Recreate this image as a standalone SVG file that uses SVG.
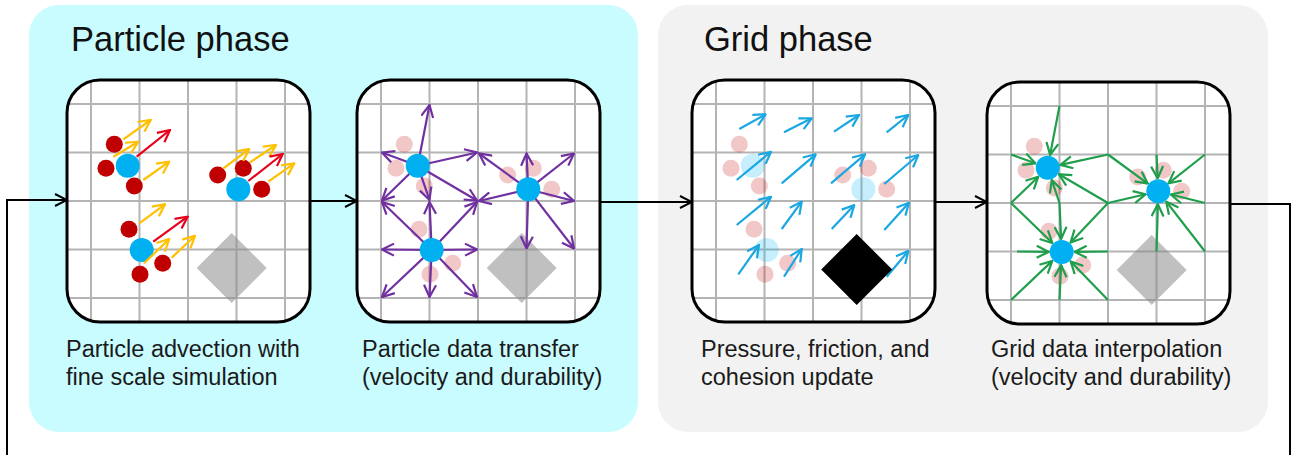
<svg xmlns="http://www.w3.org/2000/svg" xmlns:xlink="http://www.w3.org/1999/xlink" width="1298" height="455" viewBox="0 0 1298 455">
<style>
.title{font-family:"Liberation Sans",Arial,sans-serif;font-size:34.5px;fill:#111}
.lbl{font-family:"Liberation Sans",Arial,sans-serif;font-size:23.5px;fill:#1a1a1a}
.gl{stroke:#b4b4b4;stroke-width:2}
.boxbg{fill:#fff}
.boxol{fill:none;stroke:#000;stroke-width:3}
.red{fill:#c00000}
.pink{fill:#c00000;fill-opacity:0.22}
.blue{fill:#00b0f0}
.lblue{fill:#00b0f0;fill-opacity:0.22}
.ay{stroke:#ffc000;stroke-width:2.2;fill:none;marker-end:url(#mY)}
.ar{stroke:#e8001c;stroke-width:2.2;fill:none;marker-end:url(#mR)}
.ap{stroke:#7030a0;stroke-width:2.2;fill:none;marker-end:url(#mP)}
.ab{stroke:#1aa7e2;stroke-width:2.2;fill:none;marker-end:url(#mB)}
.ag{stroke:#1f9e4c;stroke-width:2.2;fill:none;marker-end:url(#mG)}
.conn{stroke:#000;stroke-width:2;fill:none}
</style>
<defs>
<marker id="mY" viewBox="0 0 14 14" refX="13" refY="7" markerWidth="14" markerHeight="14" markerUnits="userSpaceOnUse" orient="auto"><path d="M1,1 L13,7 L1,13" fill="none" stroke="#ffc000" stroke-width="2.2"/></marker>
<marker id="mR" viewBox="0 0 14 14" refX="13" refY="7" markerWidth="14" markerHeight="14" markerUnits="userSpaceOnUse" orient="auto"><path d="M1,1 L13,7 L1,13" fill="none" stroke="#e8001c" stroke-width="2.2"/></marker>
<marker id="mP" viewBox="0 0 14 14" refX="13" refY="7" markerWidth="14" markerHeight="14" markerUnits="userSpaceOnUse" orient="auto"><path d="M1,1 L13,7 L1,13" fill="none" stroke="#7030a0" stroke-width="2.2"/></marker>
<marker id="mB" viewBox="0 0 14 14" refX="13" refY="7" markerWidth="14" markerHeight="14" markerUnits="userSpaceOnUse" orient="auto"><path d="M1,1 L13,7 L1,13" fill="none" stroke="#1aa7e2" stroke-width="2.2"/></marker>
<marker id="mG" viewBox="0 0 14 14" refX="13" refY="7" markerWidth="14" markerHeight="14" markerUnits="userSpaceOnUse" orient="auto"><path d="M1,1 L13,7 L1,13" fill="none" stroke="#1f9e4c" stroke-width="2.2"/></marker>
<marker id="mK" viewBox="0 0 14 14" refX="13" refY="7" markerWidth="14" markerHeight="14" markerUnits="userSpaceOnUse" orient="auto"><path d="M1,1 L13,7 L1,13" fill="none" stroke="#000" stroke-width="2"/></marker>
<g id="grid">
<line class="gl" x1="24" y1="0" x2="24" y2="242"/>
<line class="gl" x1="72.5" y1="0" x2="72.5" y2="242"/>
<line class="gl" x1="121" y1="0" x2="121" y2="242"/>
<line class="gl" x1="169.5" y1="0" x2="169.5" y2="242"/>
<line class="gl" x1="218" y1="0" x2="218" y2="242"/>
<line class="gl" x1="0" y1="24" x2="243" y2="24"/>
<line class="gl" x1="0" y1="72.5" x2="243" y2="72.5"/>
<line class="gl" x1="0" y1="121" x2="243" y2="121"/>
<line class="gl" x1="0" y1="169.5" x2="243" y2="169.5"/>
<line class="gl" x1="0" y1="218" x2="243" y2="218"/>
</g>
<g id="pinks">
<circle class="pink" cx="47.3" cy="64.3" r="8.5"/>
<circle class="pink" cx="39" cy="88.3" r="8.5"/>
<circle class="pink" cx="67.3" cy="106" r="8.5"/>
<circle class="pink" cx="150.7" cy="95" r="8.5"/>
<circle class="pink" cx="176.3" cy="88.3" r="8.5"/>
<circle class="pink" cx="194.7" cy="109.3" r="8.5"/>
<circle class="pink" cx="62" cy="149.3" r="8.5"/>
<circle class="pink" cx="95.7" cy="183.3" r="8.5"/>
<circle class="pink" cx="73" cy="194.3" r="8.5"/>
</g>
<g id="blues">
<circle class="blue" cx="60.7" cy="85.7" r="12"/>
<circle class="blue" cx="171.3" cy="109.3" r="12"/>
<circle class="blue" cx="74.7" cy="170" r="12"/>
</g>
</defs>

<g id="particle-phase">
<rect x="29" y="5" width="609" height="427" rx="30" fill="#c9fcff"/>
<text class="title" x="71" y="51">Particle phase</text>
</g>
<g id="grid-phase">
<rect x="658" y="5" width="610" height="427" rx="30" fill="#f2f2f2"/>
<text class="title" x="704" y="51">Grid phase</text>
</g>

<g id="panel-advection">
<g transform="translate(67,80)">
<rect class="boxbg" width="243" height="242" rx="33"/>
<use xlink:href="#grid"/>
<polygon points="164.7,153 199.7,188 164.7,223 129.7,188" fill="#8c8c8c" fill-opacity="0.55"/>
<circle class="red" cx="47.3" cy="64.3" r="8.5"/>
<circle class="red" cx="39" cy="88.3" r="8.5"/>
<circle class="red" cx="67.3" cy="106" r="8.5"/>
<circle class="red" cx="150.7" cy="95" r="8.5"/>
<circle class="red" cx="176.3" cy="88.3" r="8.5"/>
<circle class="red" cx="194.7" cy="109.3" r="8.5"/>
<circle class="red" cx="62" cy="149.3" r="8.5"/>
<circle class="red" cx="95.7" cy="183.3" r="8.5"/>
<circle class="red" cx="73" cy="194.3" r="8.5"/>
<use xlink:href="#blues"/>
<line class="ay" x1="56.3" y1="59.3" x2="83.7" y2="40"/>
<line class="ay" x1="46.3" y1="76.7" x2="71.3" y2="61.7"/>
<line class="ar" x1="69.7" y1="76.7" x2="103" y2="50"/>
<line class="ay" x1="76.3" y1="100" x2="102.3" y2="81.7"/>
<line class="ay" x1="156.3" y1="88.3" x2="182.3" y2="69"/>
<line class="ay" x1="183" y1="82.3" x2="209" y2="65"/>
<line class="ar" x1="181.3" y1="101" x2="215.7" y2="74"/>
<line class="ay" x1="201.3" y1="101.7" x2="227.3" y2="83.3"/>
<line class="ay" x1="72.3" y1="143.3" x2="98" y2="124.3"/>
<line class="ar" x1="86.3" y1="161.7" x2="120.7" y2="136.7"/>
<line class="ay" x1="77" y1="183.3" x2="102.3" y2="159"/>
<line class="ay" x1="104.7" y1="177.7" x2="128" y2="155.7"/>
<rect class="boxol" width="243" height="242" rx="33"/>
</g>
<text class="lbl" x="66" y="357">Particle advection with</text>
<text class="lbl" x="66" y="385">fine scale simulation</text>
</g>

<g id="panel-transfer">
<g transform="translate(357,80)">
<rect class="boxbg" width="243" height="242" rx="33"/>
<use xlink:href="#grid"/>
<polygon points="164.7,153 199.7,188 164.7,223 129.7,188" fill="#8c8c8c" fill-opacity="0.55"/>
<use xlink:href="#pinks"/>
<line class="ap" x1="60.7" y1="85.7" x2="72.5" y2="25"/>
<line class="ap" x1="60.7" y1="85.7" x2="120" y2="72.5"/>
<line class="ap" x1="60.7" y1="85.7" x2="120" y2="120.5"/>
<line class="ap" x1="60.7" y1="85.7" x2="72.5" y2="120"/>
<line class="ap" x1="60.7" y1="85.7" x2="25" y2="120.5"/>
<line class="ap" x1="60.7" y1="85.7" x2="25" y2="72.5"/>
<line class="ap" x1="171.3" y1="109.3" x2="122" y2="73.5"/>
<line class="ap" x1="171.3" y1="109.3" x2="169.5" y2="73.5"/>
<line class="ap" x1="171.3" y1="109.3" x2="217" y2="73.5"/>
<line class="ap" x1="171.3" y1="109.3" x2="217" y2="121"/>
<line class="ap" x1="171.3" y1="109.3" x2="122" y2="121"/>
<line class="ap" x1="171.3" y1="109.3" x2="169.5" y2="168.5"/>
<line class="ap" x1="171.3" y1="109.3" x2="217" y2="168.5"/>
<line class="ap" x1="74.7" y1="170" x2="72.5" y2="122"/>
<line class="ap" x1="74.7" y1="170" x2="120" y2="122"/>
<line class="ap" x1="74.7" y1="170" x2="25" y2="122"/>
<line class="ap" x1="74.7" y1="170" x2="25" y2="169.5"/>
<line class="ap" x1="74.7" y1="170" x2="120" y2="169.5"/>
<line class="ap" x1="74.7" y1="170" x2="25" y2="217"/>
<line class="ap" x1="74.7" y1="170" x2="72.5" y2="217"/>
<line class="ap" x1="74.7" y1="170" x2="120" y2="217"/>
<use xlink:href="#blues"/>
<rect class="boxol" width="243" height="242" rx="33"/>
</g>
<text class="lbl" x="362" y="357">Particle data transfer</text>
<text class="lbl" x="362" y="385">(velocity and durability)</text>
</g>

<g id="panel-update">
<g transform="translate(692,80)">
<rect class="boxbg" width="243" height="242" rx="33"/>
<use xlink:href="#grid"/>
<use xlink:href="#pinks"/>
<circle class="lblue" cx="60.7" cy="85.7" r="12"/>
<circle class="lblue" cx="171.3" cy="109.3" r="12"/>
<circle class="lblue" cx="74.7" cy="170" r="12"/>
<line class="ab" x1="47.3" y1="49" x2="73.7" y2="34.3"/>
<line class="ab" x1="92" y1="52.3" x2="119.7" y2="38.3"/>
<line class="ab" x1="142" y1="51.7" x2="167" y2="35"/>
<line class="ab" x1="194.7" y1="52.3" x2="216.3" y2="35"/>
<line class="ab" x1="44.7" y1="100" x2="79" y2="71.7"/>
<line class="ab" x1="89.7" y1="103.3" x2="123.7" y2="74.3"/>
<line class="ab" x1="139" y1="103.3" x2="173" y2="74.3"/>
<line class="ab" x1="192.3" y1="104" x2="226.3" y2="75"/>
<line class="ab" x1="44.7" y1="145" x2="79" y2="116.7"/>
<line class="ab" x1="89.7" y1="149" x2="109.7" y2="121.7"/>
<line class="ab" x1="139.7" y1="149" x2="162.3" y2="125"/>
<line class="ab" x1="192.3" y1="150" x2="217" y2="122.7"/>
<line class="ab" x1="46.3" y1="194.3" x2="67" y2="165"/>
<line class="ab" x1="92" y1="196.7" x2="109.7" y2="169"/>
<line class="ab" x1="194.7" y1="196.7" x2="216.3" y2="171"/>
<polygon points="164.7,154 200.2,189.5 164.7,225 129.2,189.5" fill="#000"/>
<rect class="boxol" width="243" height="242" rx="33"/>
</g>
<text class="lbl" x="701" y="357">Pressure, friction, and</text>
<text class="lbl" x="701" y="385">cohesion update</text>
</g>

<g id="panel-interpolation">
<g transform="translate(987,82)">
<rect class="boxbg" width="243" height="242" rx="33"/>
<use xlink:href="#grid"/>
<polygon points="164.7,153 199.7,188 164.7,223 129.7,188" fill="#8c8c8c" fill-opacity="0.55"/>
<use xlink:href="#pinks"/>
<line class="ag" x1="72.5" y1="24" x2="63.1" y2="72.9"/>
<line class="ag" x1="121" y1="72.5" x2="73.4" y2="82.9"/>
<line class="ag" x1="121" y1="121" x2="71.9" y2="92.3"/>
<line class="ag" x1="72.5" y1="121" x2="64.8" y2="98"/>
<line class="ag" x1="24" y1="121" x2="51.3" y2="94.7"/>
<line class="ag" x1="24" y1="72.5" x2="48.5" y2="81.3"/>
<line class="ag" x1="121" y1="72.5" x2="160.8" y2="101.6"/>
<line class="ag" x1="169.5" y1="72.5" x2="170.7" y2="96.3"/>
<line class="ag" x1="218" y1="72.5" x2="181.5" y2="101.3"/>
<line class="ag" x1="218" y1="121" x2="183.9" y2="112.5"/>
<line class="ag" x1="121" y1="121" x2="158.6" y2="112.3"/>
<line class="ag" x1="169.5" y1="169.5" x2="170.9" y2="122.3"/>
<line class="ag" x1="218" y1="169.5" x2="179.3" y2="119.6"/>
<line class="ag" x1="72.5" y1="121" x2="74.1" y2="157"/>
<line class="ag" x1="121" y1="121" x2="83.6" y2="160.5"/>
<line class="ag" x1="24" y1="121" x2="65.4" y2="161"/>
<line class="ag" x1="30" y1="169.5" x2="61.7" y2="169.9"/>
<line class="ag" x1="121" y1="169.5" x2="87.7" y2="169.9"/>
<line class="ag" x1="24" y1="218" x2="65.3" y2="178.9"/>
<line class="ag" x1="72.5" y1="218" x2="74.1" y2="183"/>
<line class="ag" x1="121" y1="218" x2="83.7" y2="179.4"/>
<use xlink:href="#blues"/>
<rect class="boxol" width="243" height="242" rx="33"/>
</g>
<text class="lbl" x="991" y="357">Grid data interpolation</text>
<text class="lbl" x="991" y="385">(velocity and durability)</text>
</g>

<g id="connectors">
<polyline class="conn" points="7,455 7,200 67,200" marker-end="url(#mK)"/>
<line class="conn" x1="310" y1="201" x2="357" y2="201" marker-end="url(#mK)"/>
<line class="conn" x1="600" y1="202" x2="692" y2="202" marker-end="url(#mK)"/>
<line class="conn" x1="935" y1="202" x2="987" y2="202" marker-end="url(#mK)"/>
<polyline class="conn" points="1230,204 1290,204 1290,455"/>
</g>
</svg>
